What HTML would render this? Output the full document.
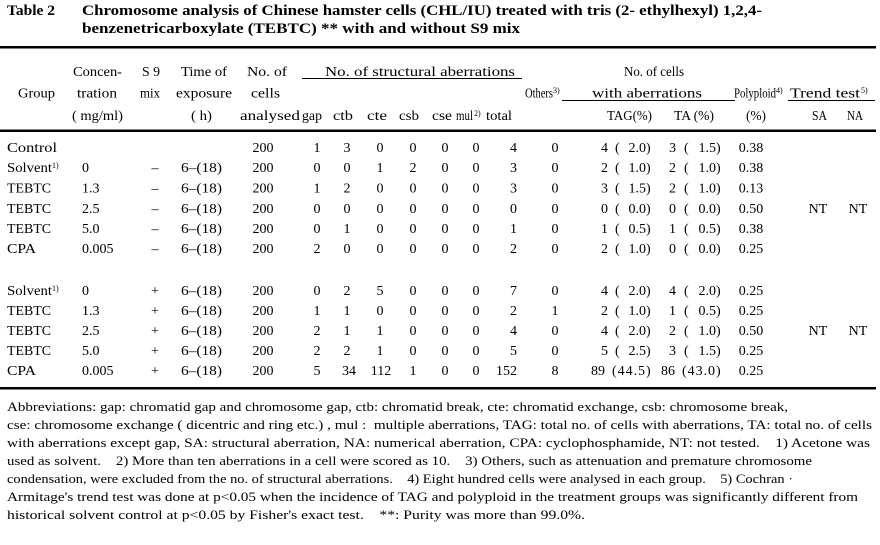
<!DOCTYPE html>
<html><head><meta charset="utf-8">
<style>
html,body{margin:0;padding:0;background:#fff;}
svg{display:block;}
text{font-family:"Liberation Serif",serif;fill:#000;font-size:14px;}
.c{text-anchor:middle;}
.e{text-anchor:end;}
.t{font-weight:bold;font-size:15px;}
.f{font-size:13px;}
.s{font-size:8px;}
</style></head><body>
<svg width="880" height="545" viewBox="0 0 880 545" xmlns="http://www.w3.org/2000/svg">
<!-- Title -->
<text class="t" x="7" y="15" textLength="48" lengthAdjust="spacingAndGlyphs">Table 2</text>
<text class="t" x="82" y="15" textLength="680" lengthAdjust="spacingAndGlyphs">Chromosome analysis of Chinese hamster cells (CHL/IU) treated with tris (2- ethylhexyl) 1,2,4-</text>
<text class="t" x="82" y="33" textLength="438" lengthAdjust="spacingAndGlyphs">benzenetricarboxylate (TEBTC) ** with and without S9 mix</text>

<!-- Rules -->
<rect x="0" y="46" width="876" height="2.5" fill="#000"/>
<rect x="0" y="129.5" width="876" height="2.5" fill="#000"/>
<rect x="0" y="387" width="876" height="2.5" fill="#000"/>
<rect x="302" y="78" width="220" height="1" fill="#000"/>
<rect x="562" y="100" width="173" height="1" fill="#000"/>
<rect x="788" y="100" width="87" height="1" fill="#000"/>

<!-- Header row 1 -->
<text x="73" y="76" textLength="49" lengthAdjust="spacingAndGlyphs">Concen-</text>
<text x="142" y="76" textLength="18" lengthAdjust="spacingAndGlyphs">S 9</text>
<text x="181" y="76" textLength="46" lengthAdjust="spacingAndGlyphs">Time of</text>
<text x="247" y="76" textLength="40" lengthAdjust="spacingAndGlyphs">No. of</text>
<text x="325" y="76" textLength="190" lengthAdjust="spacingAndGlyphs">No. of structural aberrations</text>
<text x="624" y="76" textLength="60" lengthAdjust="spacingAndGlyphs">No. of cells</text>

<!-- Header row 2 -->
<text x="18" y="97.5" textLength="37" lengthAdjust="spacingAndGlyphs">Group</text>
<text x="77" y="97.5" textLength="40" lengthAdjust="spacingAndGlyphs">tration</text>
<text x="140" y="97.5" textLength="20" lengthAdjust="spacingAndGlyphs">mix</text>
<text x="176" y="97.5" textLength="56" lengthAdjust="spacingAndGlyphs">exposure</text>
<text x="251" y="97.5" textLength="29" lengthAdjust="spacingAndGlyphs">cells</text>
<text x="525" y="97.5" textLength="28" lengthAdjust="spacingAndGlyphs">Others</text>
<text class="s" x="553" y="93">3)</text>
<text x="592" y="97.5" textLength="110" lengthAdjust="spacingAndGlyphs">with aberrations</text>
<text x="734" y="97.5" textLength="42" lengthAdjust="spacingAndGlyphs">Polyploid</text>
<text class="s" x="776" y="93">4)</text>
<text x="790" y="97.5" textLength="70" lengthAdjust="spacingAndGlyphs">Trend test</text>
<text class="s" x="861" y="93">5)</text>

<!-- Header row 3 -->
<text x="72" y="120" textLength="51" lengthAdjust="spacingAndGlyphs">( mg/ml)</text>
<text x="191" y="120" textLength="21" lengthAdjust="spacingAndGlyphs">( h)</text>
<text x="240" y="120" textLength="60" lengthAdjust="spacingAndGlyphs">analysed</text>
<text x="302" y="120" textLength="20" lengthAdjust="spacingAndGlyphs">gap</text>
<text x="333" y="120" textLength="20" lengthAdjust="spacingAndGlyphs">ctb</text>
<text x="367" y="120" textLength="20" lengthAdjust="spacingAndGlyphs">cte</text>
<text x="399" y="120" textLength="20" lengthAdjust="spacingAndGlyphs">csb</text>
<text x="432" y="120" textLength="20" lengthAdjust="spacingAndGlyphs">cse</text>
<text x="456" y="120" textLength="17" lengthAdjust="spacingAndGlyphs">mul</text>
<text class="s" x="474" y="116">2)</text>
<text x="486" y="120" textLength="26" lengthAdjust="spacingAndGlyphs">total</text>
<text x="607" y="120" textLength="45" lengthAdjust="spacingAndGlyphs">TAG(%)</text>
<text x="674" y="120" textLength="40" lengthAdjust="spacingAndGlyphs">TA (%)</text>
<text x="746" y="120" textLength="20" lengthAdjust="spacingAndGlyphs">(%)</text>
<text x="812" y="120" textLength="15" lengthAdjust="spacingAndGlyphs">SA</text>
<text x="847" y="120" textLength="16" lengthAdjust="spacingAndGlyphs">NA</text>

<!-- Data rows (S9 -) -->
<g transform="translate(0,152)">
<text x="7" textLength="50" lengthAdjust="spacingAndGlyphs">Control</text>
<text x="263" class="c">200</text>
<text x="317" class="c">1</text><text x="347" class="c">3</text><text x="380" class="c">0</text><text x="413" class="c">0</text><text x="445" class="c">0</text><text x="476" class="c">0</text><text x="517" class="e">4</text>
<text x="555" class="c">0</text>
<text x="608" class="e">4</text><text x="615">(</text><text x="646" class="e">2.0</text><text x="646">)</text>
<text x="676" class="e">3</text><text x="684">(</text><text x="716" class="e">1.5</text><text x="716">)</text>
<text x="751" class="c">0.38</text>
</g>
<g transform="translate(0,172)">
<text x="7" textLength="45" lengthAdjust="spacingAndGlyphs">Solvent</text><text class="s" x="52" y="-4">1)</text>
<text x="82">0</text><text x="155" class="c">–</text><text x="181" textLength="41" lengthAdjust="spacingAndGlyphs">6–(18)</text>
<text x="263" class="c">200</text>
<text x="317" class="c">0</text><text x="347" class="c">0</text><text x="380" class="c">1</text><text x="413" class="c">2</text><text x="445" class="c">0</text><text x="476" class="c">0</text><text x="517" class="e">3</text>
<text x="555" class="c">0</text>
<text x="608" class="e">2</text><text x="615">(</text><text x="646" class="e">1.0</text><text x="646">)</text>
<text x="676" class="e">2</text><text x="684">(</text><text x="716" class="e">1.0</text><text x="716">)</text>
<text x="751" class="c">0.38</text>
</g>
<g transform="translate(0,192.5)">
<text x="7" textLength="44" lengthAdjust="spacingAndGlyphs">TEBTC</text>
<text x="82">1.3</text><text x="155" class="c">–</text><text x="181" textLength="41" lengthAdjust="spacingAndGlyphs">6–(18)</text>
<text x="263" class="c">200</text>
<text x="317" class="c">1</text><text x="347" class="c">2</text><text x="380" class="c">0</text><text x="413" class="c">0</text><text x="445" class="c">0</text><text x="476" class="c">0</text><text x="517" class="e">3</text>
<text x="555" class="c">0</text>
<text x="608" class="e">3</text><text x="615">(</text><text x="646" class="e">1.5</text><text x="646">)</text>
<text x="676" class="e">2</text><text x="684">(</text><text x="716" class="e">1.0</text><text x="716">)</text>
<text x="751" class="c">0.13</text>
</g>
<g transform="translate(0,213)">
<text x="7" textLength="44" lengthAdjust="spacingAndGlyphs">TEBTC</text>
<text x="82">2.5</text><text x="155" class="c">–</text><text x="181" textLength="41" lengthAdjust="spacingAndGlyphs">6–(18)</text>
<text x="263" class="c">200</text>
<text x="317" class="c">0</text><text x="347" class="c">0</text><text x="380" class="c">0</text><text x="413" class="c">0</text><text x="445" class="c">0</text><text x="476" class="c">0</text><text x="517" class="e">0</text>
<text x="555" class="c">0</text>
<text x="608" class="e">0</text><text x="615">(</text><text x="646" class="e">0.0</text><text x="646">)</text>
<text x="676" class="e">0</text><text x="684">(</text><text x="716" class="e">0.0</text><text x="716">)</text>
<text x="751" class="c">0.50</text>
<text x="818" class="c">NT</text><text x="858" class="c">NT</text>
</g>
<g transform="translate(0,233)">
<text x="7" textLength="44" lengthAdjust="spacingAndGlyphs">TEBTC</text>
<text x="82">5.0</text><text x="155" class="c">–</text><text x="181" textLength="41" lengthAdjust="spacingAndGlyphs">6–(18)</text>
<text x="263" class="c">200</text>
<text x="317" class="c">0</text><text x="347" class="c">1</text><text x="380" class="c">0</text><text x="413" class="c">0</text><text x="445" class="c">0</text><text x="476" class="c">0</text><text x="517" class="e">1</text>
<text x="555" class="c">0</text>
<text x="608" class="e">1</text><text x="615">(</text><text x="646" class="e">0.5</text><text x="646">)</text>
<text x="676" class="e">1</text><text x="684">(</text><text x="716" class="e">0.5</text><text x="716">)</text>
<text x="751" class="c">0.38</text>
</g>
<g transform="translate(0,253)">
<text x="7" textLength="29" lengthAdjust="spacingAndGlyphs">CPA</text>
<text x="82">0.005</text><text x="155" class="c">–</text><text x="181" textLength="41" lengthAdjust="spacingAndGlyphs">6–(18)</text>
<text x="263" class="c">200</text>
<text x="317" class="c">2</text><text x="347" class="c">0</text><text x="380" class="c">0</text><text x="413" class="c">0</text><text x="445" class="c">0</text><text x="476" class="c">0</text><text x="517" class="e">2</text>
<text x="555" class="c">0</text>
<text x="608" class="e">2</text><text x="615">(</text><text x="646" class="e">1.0</text><text x="646">)</text>
<text x="676" class="e">0</text><text x="684">(</text><text x="716" class="e">0.0</text><text x="716">)</text>
<text x="751" class="c">0.25</text>
</g>

<!-- Data rows (S9 +) -->
<g transform="translate(0,295)">
<text x="7" textLength="45" lengthAdjust="spacingAndGlyphs">Solvent</text><text class="s" x="52" y="-4">1)</text>
<text x="82">0</text><text x="155" class="c">+</text><text x="181" textLength="41" lengthAdjust="spacingAndGlyphs">6–(18)</text>
<text x="263" class="c">200</text>
<text x="317" class="c">0</text><text x="347" class="c">2</text><text x="380" class="c">5</text><text x="413" class="c">0</text><text x="445" class="c">0</text><text x="476" class="c">0</text><text x="517" class="e">7</text>
<text x="555" class="c">0</text>
<text x="608" class="e">4</text><text x="615">(</text><text x="646" class="e">2.0</text><text x="646">)</text>
<text x="676" class="e">4</text><text x="684">(</text><text x="716" class="e">2.0</text><text x="716">)</text>
<text x="751" class="c">0.25</text>
</g>
<g transform="translate(0,315)">
<text x="7" textLength="44" lengthAdjust="spacingAndGlyphs">TEBTC</text>
<text x="82">1.3</text><text x="155" class="c">+</text><text x="181" textLength="41" lengthAdjust="spacingAndGlyphs">6–(18)</text>
<text x="263" class="c">200</text>
<text x="317" class="c">1</text><text x="347" class="c">1</text><text x="380" class="c">0</text><text x="413" class="c">0</text><text x="445" class="c">0</text><text x="476" class="c">0</text><text x="517" class="e">2</text>
<text x="555" class="c">1</text>
<text x="608" class="e">2</text><text x="615">(</text><text x="646" class="e">1.0</text><text x="646">)</text>
<text x="676" class="e">1</text><text x="684">(</text><text x="716" class="e">0.5</text><text x="716">)</text>
<text x="751" class="c">0.25</text>
</g>
<g transform="translate(0,335)">
<text x="7" textLength="44" lengthAdjust="spacingAndGlyphs">TEBTC</text>
<text x="82">2.5</text><text x="155" class="c">+</text><text x="181" textLength="41" lengthAdjust="spacingAndGlyphs">6–(18)</text>
<text x="263" class="c">200</text>
<text x="317" class="c">2</text><text x="347" class="c">1</text><text x="380" class="c">1</text><text x="413" class="c">0</text><text x="445" class="c">0</text><text x="476" class="c">0</text><text x="517" class="e">4</text>
<text x="555" class="c">0</text>
<text x="608" class="e">4</text><text x="615">(</text><text x="646" class="e">2.0</text><text x="646">)</text>
<text x="676" class="e">2</text><text x="684">(</text><text x="716" class="e">1.0</text><text x="716">)</text>
<text x="751" class="c">0.50</text>
<text x="818" class="c">NT</text><text x="858" class="c">NT</text>
</g>
<g transform="translate(0,355)">
<text x="7" textLength="44" lengthAdjust="spacingAndGlyphs">TEBTC</text>
<text x="82">5.0</text><text x="155" class="c">+</text><text x="181" textLength="41" lengthAdjust="spacingAndGlyphs">6–(18)</text>
<text x="263" class="c">200</text>
<text x="317" class="c">2</text><text x="347" class="c">2</text><text x="380" class="c">1</text><text x="413" class="c">0</text><text x="445" class="c">0</text><text x="476" class="c">0</text><text x="517" class="e">5</text>
<text x="555" class="c">0</text>
<text x="608" class="e">5</text><text x="615">(</text><text x="646" class="e">2.5</text><text x="646">)</text>
<text x="676" class="e">3</text><text x="684">(</text><text x="716" class="e">1.5</text><text x="716">)</text>
<text x="751" class="c">0.25</text>
</g>
<g transform="translate(0,375)">
<text x="7" textLength="29" lengthAdjust="spacingAndGlyphs">CPA</text>
<text x="82">0.005</text><text x="155" class="c">+</text><text x="181" textLength="41" lengthAdjust="spacingAndGlyphs">6–(18)</text>
<text x="263" class="c">200</text>
<text x="317" class="c">5</text><text x="349" class="c">34</text><text x="381" class="c">112</text><text x="413" class="c">1</text><text x="445" class="c">0</text><text x="476" class="c">0</text><text x="517" class="e">152</text>
<text x="555" class="c">8</text>
<text x="605" class="e">89</text><text x="612" textLength="38.7" lengthAdjust="spacing">(44.5)</text>
<text x="675" class="e">86</text><text x="682" textLength="38.7" lengthAdjust="spacing">(43.0)</text>
<text x="751" class="c">0.25</text>
</g>

<!-- Footnotes -->
<text class="f" x="7" y="411" textLength="781" lengthAdjust="spacingAndGlyphs">Abbreviations: gap: chromatid gap and chromosome gap, ctb: chromatid break, cte: chromatid exchange, csb: chromosome break,</text>
<text class="f" x="7" y="429" textLength="865" lengthAdjust="spacingAndGlyphs">cse: chromosome exchange ( dicentric and ring etc.) , mul :&#160; multiple aberrations, TAG: total no. of cells with aberrations, TA: total no. of cells</text>
<text class="f" x="7" y="447" textLength="863" lengthAdjust="spacingAndGlyphs">with aberrations except gap, SA: structural aberration, NA: numerical aberration, CPA: cyclophosphamide, NT: not tested.&#160;&#160;&#160; 1) Acetone was</text>
<text class="f" x="7" y="465" textLength="805" lengthAdjust="spacingAndGlyphs">used as solvent.&#160;&#160;&#160; 2) More than ten aberrations in a cell were scored as 10.&#160;&#160;&#160; 3) Others, such as attenuation and premature chromosome</text>
<text class="f" x="7" y="483" textLength="786" lengthAdjust="spacingAndGlyphs">condensation, were excluded from the no. of structural aberrations.&#160;&#160;&#160; 4) Eight hundred cells were analysed in each group.&#160;&#160;&#160; 5) Cochran ·</text>
<text class="f" x="7" y="501" textLength="851" lengthAdjust="spacingAndGlyphs">Armitage's trend test was done at p&lt;0.05 when the incidence of TAG and polyploid in the treatment groups was significantly different from</text>
<text class="f" x="7" y="519" textLength="578" lengthAdjust="spacingAndGlyphs">historical solvent control at p&lt;0.05 by Fisher's exact test.&#160;&#160;&#160; **: Purity was more than 99.0%.</text>
</svg>
</body></html>
